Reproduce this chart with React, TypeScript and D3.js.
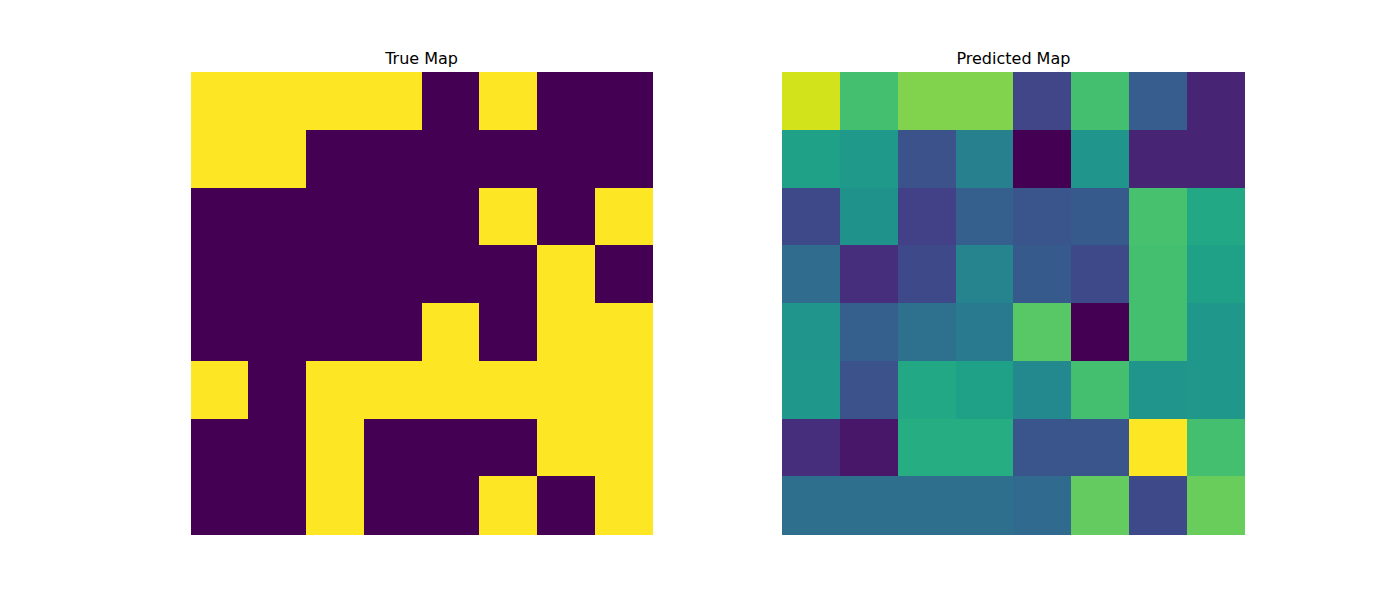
import React, { useEffect, useRef } from "react";
import * as d3 from "d3";

// True map: 1 = yellow, 0 = purple
const trueMap: number[][] = [
  [1, 1, 1, 1, 0, 1, 0, 0],
  [1, 1, 0, 0, 0, 0, 0, 0],
  [0, 0, 0, 0, 0, 1, 0, 1],
  [0, 0, 0, 0, 0, 0, 1, 0],
  [0, 0, 0, 0, 1, 0, 1, 1],
  [1, 0, 1, 1, 1, 1, 1, 1],
  [0, 0, 1, 0, 0, 0, 1, 1],
  [0, 0, 1, 0, 0, 1, 0, 1],
];

// Predicted map values
const predictedMap: number[][] = [
  [0.93, 0.7, 0.81, 0.81, 0.21, 0.7, 0.29, 0.1],
  [0.57, 0.54, 0.25, 0.43, 0.0, 0.52, 0.1, 0.1],
  [0.22, 0.51, 0.19, 0.3, 0.26, 0.28, 0.71, 0.6],
  [0.35, 0.13, 0.22, 0.45, 0.28, 0.22, 0.7, 0.57],
  [0.52, 0.3, 0.37, 0.41, 0.74, 0.0, 0.7, 0.53],
  [0.53, 0.25, 0.6, 0.57, 0.47, 0.7, 0.52, 0.53],
  [0.13, 0.06, 0.62, 0.62, 0.26, 0.26, 1.0, 0.7],
  [0.36, 0.36, 0.36, 0.36, 0.34, 0.76, 0.22, 0.77],
];

const titles = ["True Map", "Predicted Map"];

const App = () => {
  const ref = useRef<SVGSVGElement>(null);

  useEffect(() => {
    const width = 1400;
    const height = 600;
    const svg = d3.select(ref.current).attr("width", width).attr("height", height);
    svg.selectAll("*").remove();

    // matplotlib-like subplot layout: two square axes
    const left = 175, right = 1260, top = 72, bottom = 534;
    const side = bottom - top;
    const slot = (right - left) / 2.2;
    const maps = [trueMap, predictedMap];

    maps.forEach((m, i) => {
      const slotLeft = left + i * slot * 1.2;
      const x0 = slotLeft + (slot - side) / 2;
      const n = m.length;
      const xScale = d3.scaleBand<number>().domain(d3.range(n)).range([x0, x0 + side]);
      const yScale = d3.scaleBand<number>().domain(d3.range(n)).range([top, bottom]);
      const ext = d3.extent(m.flat()) as [number, number];
      const color = d3.scaleSequential(d3.interpolateViridis).domain(ext);

      const g = svg.append("g");
      const cells = m.flatMap((row, r) => row.map((v, c) => ({ r, c, v })));
      g.selectAll("rect")
        .data(cells)
        .enter()
        .append("rect")
        .attr("x", d => xScale(d.c)!)
        .attr("y", d => yScale(d.r)!)
        .attr("width", xScale.bandwidth() + 0.5)
        .attr("height", yScale.bandwidth() + 0.5)
        .attr("fill", d => color(d.v))
        .attr("shape-rendering", "crispEdges");

      g.append("text")
        .attr("x", x0 + side / 2)
        .attr("y", top - 8)
        .attr("text-anchor", "middle")
        .style("font-family", "DejaVu Sans")
        .style("font-size", "16px")
        .style("fill", "#000")
        .text(titles[i]);
    });
  }, []);

  return <svg ref={ref} style={{ position: "absolute", left: 0, top: 0 }}></svg>;
};

export default App;
